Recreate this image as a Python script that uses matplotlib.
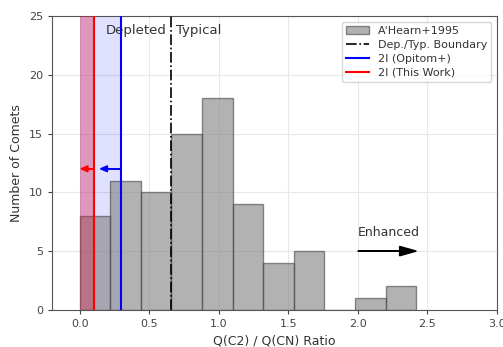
import numpy as np
import matplotlib
matplotlib.use('Agg')
from matplotlib import pyplot as plt

# C2/CN ratio histogram (A'Hearn+1995) with 2I measurements
bin_edges = [0.0, 0.22, 0.44, 0.66, 0.88, 1.10, 1.32, 1.54, 1.76, 1.98, 2.20, 2.42]
counts = [8, 11, 10, 15, 18, 9, 4, 5, 0, 1, 2]

boundary = 0.66      # depleted / typical
ratio_opitom = 0.30  # 2I upper limit, Opitom+
ratio_this = 0.10    # 2I upper limit, this work

fig = plt.figure(figsize=(5.03, 3.47), dpi=100)
ax = fig.add_axes([0.103, 0.107, 0.885, 0.847])

ax.grid(True, color='#e8e8e8', lw=0.8, zorder=0)
ax.set_axisbelow(True)

ax.hist(bin_edges[:-1], bins=bin_edges, weights=counts, color='gray', alpha=0.6,
        edgecolor='#444444', lw=1, label="A'Hearn+1995", zorder=2)

ax.axvline(boundary, color='k', ls='-.', lw=1.2, label='Dep./Typ. Boundary', zorder=3)

ax.axvspan(0, ratio_opitom, color='b', alpha=0.12, lw=0, zorder=1)
ax.axvline(ratio_opitom, color='b', lw=1.5, label='2I (Opitom+)', zorder=4)
ax.axvspan(0, ratio_this, color='crimson', alpha=0.35, lw=0, zorder=3)
ax.axvline(ratio_this, color='r', lw=1.5, label='2I (This Work)', zorder=4)

ax.arrow(ratio_opitom, 12, -0.1, 0, color='b', head_width=0.5, head_length=0.05,
         lw=1, zorder=5)
ax.arrow(ratio_this, 12, -0.04, 0, color='r', head_width=0.5, head_length=0.05,
         lw=1, zorder=5)

ax.arrow(2.0, 5, 0.3, 0, color='k', head_width=0.8, head_length=0.12, lw=1, zorder=5)
ax.text(2.0, 6.0, 'Enhanced', fontsize=9, color='#333333', ha='left', va='bottom')

ax.text(boundary - 0.035, 23.8, 'Depleted', fontsize=9.5, color='#333333', ha='right', va='center')
ax.text(boundary + 0.035, 23.8, 'Typical', fontsize=9.5, color='#333333', ha='left', va='center')

ax.set_xlim(-0.2, 3.0)
ax.set_ylim(0, 25)
ax.set_xticks([0.0, 0.5, 1.0, 1.5, 2.0, 2.5, 3.0])
ax.set_yticks([0, 5, 10, 15, 20, 25])
ax.tick_params(labelsize=8, colors='#444444', length=3)
for s in ax.spines.values():
    s.set_color('#555555')

ax.set_xlabel('Q(C2) / Q(CN) Ratio', fontsize=9, color='#333333')
ax.set_ylabel('Number of Comets', fontsize=9, color='#333333')

leg = ax.legend(loc='upper right', fontsize=8, framealpha=0.8, edgecolor='#cccccc',
                handlelength=2.0, labelspacing=0.35)
for t in leg.get_texts():
    t.set_color('#333333')

plt.savefig('out.png', dpi=100)
